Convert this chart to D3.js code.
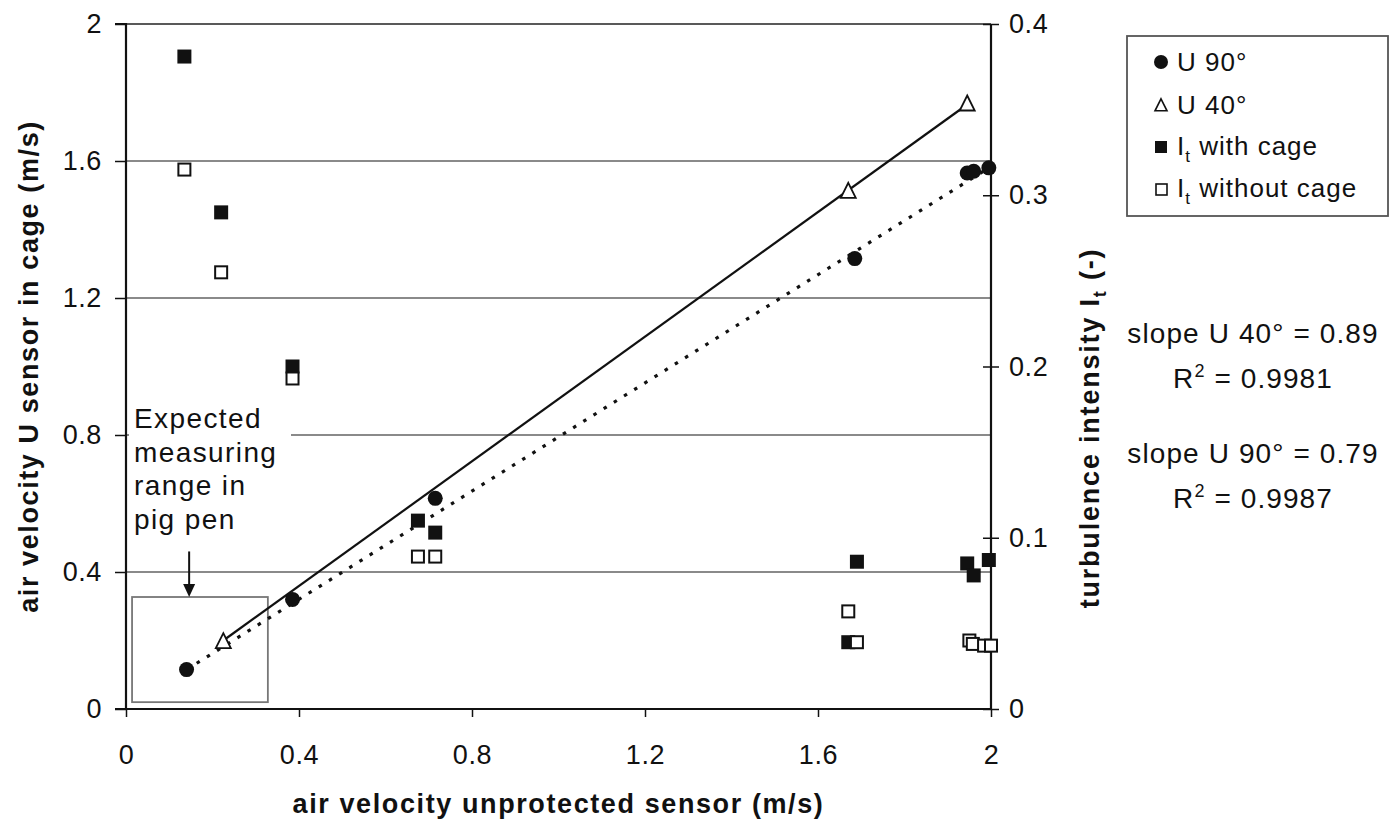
<!DOCTYPE html>
<html><head><meta charset="utf-8">
<script src="https://cdn.jsdelivr.net/npm/d3@7"></script>
<style>
body{margin:0;background:#fff;}
text{font-family:"Liberation Sans",Arial,sans-serif;fill:#111;}
</style></head>
<body>
<script>
// ---------- data ----------
const xTicks = [0, 0.4, 0.8, 1.2, 1.6, 2];
const yTicks = [0, 0.4, 0.8, 1.2, 1.6, 2];
const yRTicks = [0, 0.1, 0.2, 0.3, 0.4];

const u90X = [0.14, 0.385, 0.715, 1.685, 1.945, 1.96, 1.995];
const u90Y = [0.115, 0.32, 0.615, 1.315, 1.565, 1.57, 1.58];

const u40X = [0.225, 1.67, 1.945];
const u40Y = [0.195, 1.51, 1.765];

const cageX = [0.135, 0.22, 0.385, 0.675, 0.715, 1.69, 1.67, 1.945, 1.96, 1.995];
const cageIt = [0.381, 0.29, 0.2, 0.11, 0.103, 0.086, 0.039, 0.085, 0.078, 0.087];

const noCageX = [0.135, 0.22, 0.385, 0.675, 0.715, 1.67, 1.69, 1.95, 1.958, 1.984, 2.0];
const noCageIt = [0.315, 0.255, 0.193, 0.089, 0.089, 0.057, 0.039, 0.040, 0.038, 0.037, 0.037];

const trend40X = [0.225, 1.945];
const trend40Y = [0.2, 1.765];
const trend90X = [0.14, 1.995];
const trend90Y = [0.115, 1.58];

const rangeBoxX = [0.014, 0.328];
const rangeBoxY = [0.02, 0.327];
const arrowX = 0.146;
const arrowY = [0.46, 0.327];

const legendLabels = ["U 90°", "U 40°", "I|t| with cage", "I|t| without cage"];
const annotationLines = ["Expected", "measuring", "range in", "pig pen"];

// ---------- layout ----------
const W = 1395, H = 825;
const x = d3.scaleLinear().domain([0, 2]).range([126, 991]);
const y = d3.scaleLinear().domain([0, 2]).range([709, 24]);
const yR = d3.scaleLinear().domain([0, 0.4]).range([709, 24]);
const fmt = d3.format("~g");

const svg = d3.select("body").append("svg").attr("width", W).attr("height", H);

// gridlines
svg.append("g").selectAll("line").data(yTicks.filter(d => d > 0 && d < 2)).join("line")
  .attr("x1", x(0)).attr("x2", x(2)).attr("y1", d => y(d)).attr("y2", d => y(d))
  .attr("stroke", "#8a8a8a").attr("stroke-width", 2);
// top border
svg.append("line").attr("x1", x(0)).attr("x2", x(2)).attr("y1", y(2)).attr("y2", y(2))
  .attr("stroke", "#222").attr("stroke-width", 1.6);

// range box
svg.append("rect")
  .attr("x", x(rangeBoxX[0])).attr("y", y(rangeBoxY[1]))
  .attr("width", x(rangeBoxX[1]) - x(rangeBoxX[0]))
  .attr("height", y(rangeBoxY[0]) - y(rangeBoxY[1]))
  .attr("fill", "none").attr("stroke", "#777").attr("stroke-width", 1.8);

// annotation text with white background
const annG = svg.append("g");
annG.append("rect").attr("x", 129).attr("y", 398).attr("width", 162).attr("height", 138).attr("fill", "#fff");
annG.selectAll("text").data(annotationLines).join("text")
  .attr("x", 134).attr("y", (d, i) => 428 + i * 33.5)
  .attr("font-size", 28).attr("letter-spacing", 1.4)
  .text(d => d);
// arrow
svg.append("line").attr("x1", x(arrowX)).attr("x2", x(arrowX))
  .attr("y1", y(arrowY[0])).attr("y2", y(arrowY[1]) - 10)
  .attr("stroke", "#111").attr("stroke-width", 2);
svg.append("path")
  .attr("d", `M${x(arrowX) - 6},${y(arrowY[1]) - 13} L${x(arrowX) + 6},${y(arrowY[1]) - 13} L${x(arrowX)},${y(arrowY[1])} Z`)
  .attr("fill", "#111");

// axes
const axL = svg.append("g").attr("transform", `translate(${x(0)},0)`)
  .call(d3.axisLeft(y).tickValues(yTicks).tickFormat(fmt).tickSize(11).tickPadding(13));
const axB = svg.append("g").attr("transform", `translate(0,${y(0)})`)
  .call(d3.axisBottom(x).tickValues(xTicks).tickFormat(fmt).tickSize(8).tickPadding(28));
const axR = svg.append("g").attr("transform", `translate(${x(2)},0)`)
  .call(d3.axisRight(yR).tickValues(yRTicks).tickFormat(fmt).tickSize(8).tickPadding(10));
axR.selectAll(".tick").append("line").attr("x2", -8).attr("stroke", "#111").attr("stroke-width", 1.5);
[axL, axB, axR].forEach(a => {
  a.select(".domain").attr("stroke", "#111").attr("stroke-width", 2.2);
  a.selectAll(".tick line").attr("stroke", "#111").attr("stroke-width", 1.5);
  a.selectAll(".tick text").attr("font-size", 27).attr("letter-spacing", 0.6)
    .attr("font-family", "Liberation Sans, Arial, sans-serif").attr("fill", "#111");
});
axL.select(".domain").attr("d", `M-11,${y(2)}H0V${y(0)}H-11`);
axB.select(".domain").attr("d", `M${x(0)},0H${x(2)}`);
axR.select(".domain").attr("d", `M0,${yR(0.4)}V${yR(0)}`);

// trend lines
svg.append("line")
  .attr("x1", x(trend40X[0])).attr("y1", y(trend40Y[0]))
  .attr("x2", x(trend40X[1])).attr("y2", y(trend40Y[1]))
  .attr("stroke", "#111").attr("stroke-width", 2.2);
svg.append("line")
  .attr("x1", x(trend90X[0])).attr("y1", y(trend90Y[0]))
  .attr("x2", x(trend90X[1])).attr("y2", y(trend90Y[1]))
  .attr("stroke", "#111").attr("stroke-width", 3.2)
  .attr("stroke-dasharray", "3.5,8.5");

// markers
const sq = 14;
svg.append("g").selectAll("circle").data(u90X).join("circle")
  .attr("cx", d => x(d)).attr("cy", (d, i) => y(u90Y[i])).attr("r", 7.5).attr("fill", "#111");
const tri = (cx, cy, s) => `M${cx},${cy - s * 0.6} L${cx + s / 2},${cy + s * 0.4} L${cx - s / 2},${cy + s * 0.4} Z`;
svg.append("g").selectAll("path").data(u40X).join("path")
  .attr("d", (d, i) => tri(x(d), y(u40Y[i]), 15))
  .attr("fill", "#fff").attr("stroke", "#111").attr("stroke-width", 1.8);
svg.append("g").selectAll("rect").data(cageX).join("rect")
  .attr("x", d => x(d) - sq / 2).attr("y", (d, i) => yR(cageIt[i]) - sq / 2)
  .attr("width", sq).attr("height", sq).attr("fill", "#111");
svg.append("g").selectAll("rect").data(noCageX).join("rect")
  .attr("x", d => x(d) - (sq - 2) / 2).attr("y", (d, i) => yR(noCageIt[i]) - (sq - 2) / 2)
  .attr("width", sq - 2).attr("height", sq - 2).attr("fill", "#fff")
  .attr("stroke", "#111").attr("stroke-width", 2);

// axis titles
svg.append("text").attr("x", x(1)).attr("y", 813).attr("text-anchor", "middle")
  .attr("font-size", 27).attr("font-weight", "bold").attr("letter-spacing", 1.6)
  .text("air velocity unprotected sensor (m/s)");
svg.append("text").attr("transform", `translate(38,${y(1)}) rotate(-90)`).attr("text-anchor", "middle")
  .attr("font-size", 27).attr("font-weight", "bold").attr("letter-spacing", 1.6)
  .text("air velocity U sensor in cage (m/s)");
const rt = svg.append("text").attr("transform", `translate(1099,428) rotate(-90)`).attr("text-anchor", "middle")
  .attr("font-size", 27).attr("font-weight", "bold").attr("letter-spacing", 1.8);
rt.append("tspan").text("turbulence intensity I");
rt.append("tspan").attr("font-size", 18).attr("dy", 7).text("t");
rt.append("tspan").attr("dy", -7).text(" (-)");

// legend
const lg = svg.append("g");
lg.append("rect").attr("x", 1127).attr("y", 36).attr("width", 261).attr("height", 180)
  .attr("fill", "#fff").attr("stroke", "#555").attr("stroke-width", 1.8);
const rowsY = [62, 105, 146, 188];
const mx = 1161;
lg.append("circle").attr("cx", mx).attr("cy", rowsY[0]).attr("r", 7).attr("fill", "#111");
lg.append("path").attr("d", tri(mx, rowsY[1] + 1, 12)).attr("fill", "#fff").attr("stroke", "#111").attr("stroke-width", 1.6);
lg.append("rect").attr("x", mx - 6).attr("y", rowsY[2] - 5).attr("width", 12).attr("height", 12).attr("fill", "#111");
lg.append("rect").attr("x", mx - 5).attr("y", rowsY[3] - 4).attr("width", 11).attr("height", 11)
  .attr("fill", "#fff").attr("stroke", "#111").attr("stroke-width", 1.6);
legendLabels.forEach((lab, i) => {
  const t = lg.append("text").attr("x", 1177).attr("y", rowsY[i] + 9).attr("font-size", 26).attr("letter-spacing", 1);
  const parts = lab.split("|");
  if (parts.length === 1) { t.text(lab); }
  else {
    t.append("tspan").text(parts[0]);
    t.append("tspan").attr("font-size", 17).attr("dy", 7).text(parts[1]);
    t.append("tspan").attr("dy", -7).text(parts[2]);
  }
});

// slope / R² text
const statsG = svg.append("g").attr("font-size", 28);
const stats = [
  {y: 343, main: "slope U 40° = 0.89"},
  {y: 388, r: "0.9981"},
  {y: 463, main: "slope U 90° = 0.79"},
  {y: 508, r: "0.9987"}
];
stats.forEach(s => {
  const t = statsG.append("text").attr("x", 1253).attr("y", s.y).attr("text-anchor", "middle")
    .attr("font-size", 28).attr("letter-spacing", 1.1);
  if (s.main) t.text(s.main);
  else {
    t.append("tspan").text("R");
    t.append("tspan").attr("font-size", 18).attr("dy", -11).text("2");
    t.append("tspan").attr("dy", 11).text(" = " + s.r);
  }
});
</script>
</body></html>
